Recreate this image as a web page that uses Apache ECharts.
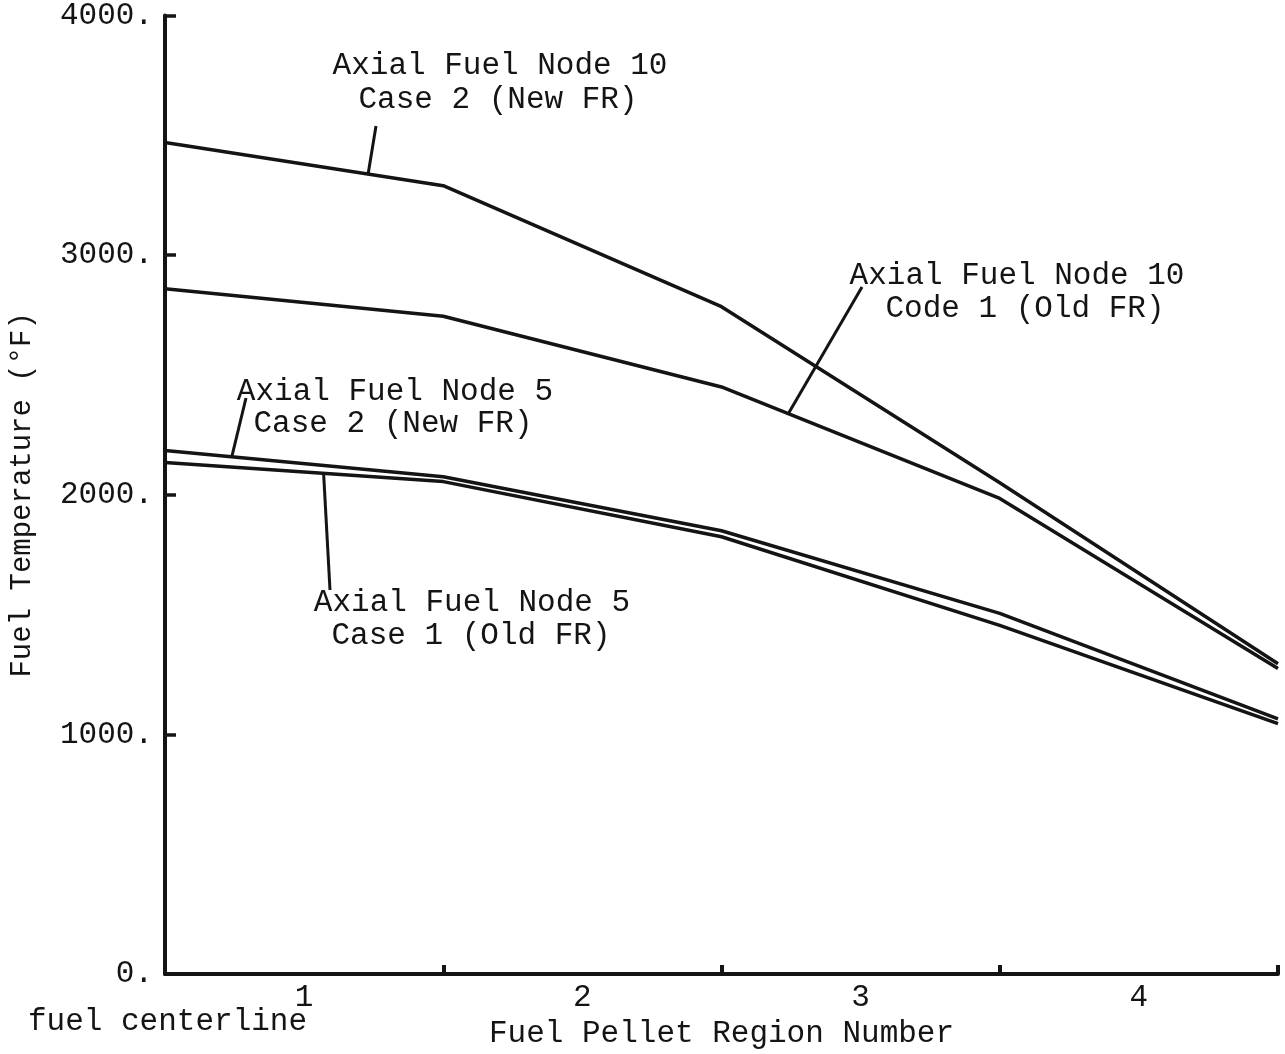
<!DOCTYPE html>
<html>
<head>
<meta charset="utf-8">
<title>Fuel Temperature by Pellet Region</title>
<script src="https://cdn.jsdelivr.net/npm/echarts@6/dist/echarts.min.js"></script>
<style>
  html, body { margin: 0; padding: 0; background: #ffffff; }
  #chart { width: 1285px; height: 1054px; }
</style>
</head>
<body>
<div id="chart"></div>
<script>
// Radial positions: 0 = fuel centerline, 1..4 = outer boundaries of pellet regions
const radialPos = [0, 1, 2, 3, 4];
const regionLabels = ['1', '2', '3', '4'];
const yTicks = [0, 1000, 2000, 3000, 4000];

// Fuel temperature (°F) at each radial position
const node10Case2 = [3470, 3290, 2785, 2050, 1295];
const node10Case1 = [2860, 2745, 2450, 1985, 1275];
const node5Case2  = [2185, 2075, 1850, 1505, 1065];
const node5Case1  = [2135, 2055, 1825, 1455, 1045];

const FONT = '"Liberation Mono", "DejaVu Sans Mono", monospace';
const INK = '#141414';

function pairs(vals) { return radialPos.map((x, i) => [x, vals[i]]); }

// value of a polyline series at an arbitrary radial position
function valueAt(vals, x) {
  const i = Math.min(Math.floor(x), radialPos.length - 2);
  const t = x - radialPos[i];
  return vals[i] + (vals[i + 1] - vals[i]) * t;
}

const chart = echarts.init(document.getElementById('chart'), null, { renderer: 'canvas' });

const lineSeries = (name, vals) => ({
  name, type: 'line', data: pairs(vals), xAxisIndex: 0, yAxisIndex: 0,
  symbol: 'none', silent: true,
  lineStyle: { color: INK, width: 3.5 }
});

chart.setOption({
  animation: false,
  backgroundColor: '#ffffff',
  grid: { left: 163, right: 7, top: 14, bottom: 75, containLabel: false },
  xAxis: [
    {
      type: 'value', min: 0, max: 4, interval: 1,
      axisLine: { show: true, lineStyle: { color: INK, width: 4 } },
      axisTick: { show: true, inside: true, length: 9, lineStyle: { color: INK, width: 4 } },
      axisLabel: { show: false },
      splitLine: { show: false }
    },
    {
      type: 'category', data: regionLabels, position: 'bottom', boundaryGap: true,
      axisLine: { show: false }, axisTick: { show: false },
      axisLabel: { show: true, margin: 8, color: INK, fontFamily: FONT, fontSize: 31 },
      name: 'Fuel Pellet Region Number', nameLocation: 'middle', nameGap: 40,
      nameTextStyle: { color: INK, fontFamily: FONT, fontSize: 31 }
    }
  ],
  yAxis: {
    type: 'value', min: 0, max: 4000, interval: 1000,
    axisLine: { show: true, lineStyle: { color: INK, width: 4 } },
    axisTick: { show: true, inside: true, length: 11, lineStyle: { color: INK, width: 3.5 } },
    axisLabel: {
      show: true, margin: 12, color: INK, fontFamily: FONT, fontSize: 31,
      formatter: v => yTicks.includes(v) ? v + '.' : ''
    },
    splitLine: { show: false },
    name: 'Fuel Temperature (°F)', nameLocation: 'middle', nameGap: 128,
    nameTextStyle: { color: INK, fontFamily: FONT, fontSize: 29 }
  },
  series: [
    lineSeries('Axial Fuel Node 10 Case 2 (New FR)', node10Case2),
    lineSeries('Axial Fuel Node 10 Code 1 (Old FR)', node10Case1),
    lineSeries('Axial Fuel Node 5 Case 2 (New FR)', node5Case2),
    lineSeries('Axial Fuel Node 5 Case 1 (Old FR)', node5Case1)
  ]
});

// Callout labels with leader lines pointing to their curves
const callouts = [
  { lines: ['Axial Fuel Node 10', 'Case 2 (New FR)'], x: [500, 498], y: [66, 100], vals: node10Case2, at: 0.73, end: [376, 126] },
  { lines: ['Axial Fuel Node 10', 'Code 1 (Old FR)'], x: [1017, 1025], y: [276, 309], vals: node10Case1, at: 2.24, end: [862, 287] },
  { lines: ['Axial Fuel Node 5', 'Case 2 (New FR)'], x: [395, 393], y: [392, 424], vals: node5Case2, at: 0.24, end: [246, 398] },
  { lines: ['Axial Fuel Node 5', 'Case 1 (Old FR)'], x: [472, 471], y: [603, 636], vals: node5Case1, at: 0.57, end: [330, 590] }
];

const graphics = [];
callouts.forEach(c => {
  c.lines.forEach((t, i) => {
    graphics.push({
      type: 'text', silent: true,
      style: { text: t, x: c.x[i], y: c.y[i], align: 'center', verticalAlign: 'middle',
               fill: INK, font: '31px ' + FONT }
    });
  });
  const p = chart.convertToPixel({ xAxisIndex: 0, yAxisIndex: 0 }, [c.at, valueAt(c.vals, c.at)]);
  graphics.push({
    type: 'line', silent: true,
    shape: { x1: p[0], y1: p[1], x2: c.end[0], y2: c.end[1] },
    style: { stroke: INK, lineWidth: 3 }
  });
});

graphics.push({
  type: 'text', silent: true,
  style: { text: 'fuel centerline', x: 28, y: 1022, align: 'left', verticalAlign: 'middle',
           fill: INK, font: '31px ' + FONT }
});

chart.setOption({ graphic: graphics });
</script>
</body>
</html>
